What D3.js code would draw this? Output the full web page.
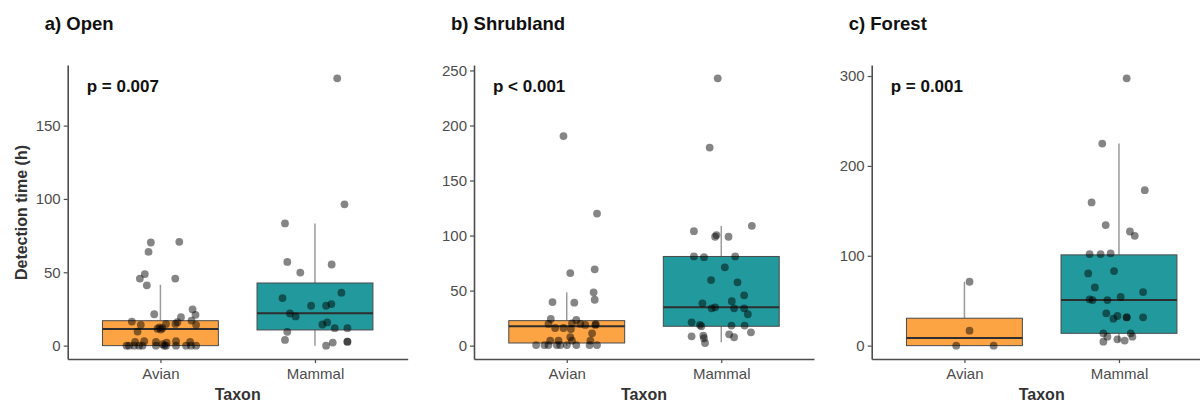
<!DOCTYPE html>
<html><head><meta charset="utf-8">
<script src="https://cdn.jsdelivr.net/npm/d3@7"></script>
<style>
html,body{margin:0;padding:0;background:#fff;}
svg{display:block;font-family:"Liberation Sans",Arial,Helvetica,sans-serif;}
</style></head>
<body><svg id="chart" width="1200" height="402"></svg>
<script>
// ---- data ----
const categories = ["Avian", "Mammal"];
const panelTitles = ["a) Open", "b) Shrubland", "c) Forest"];
const pLabels = ["p = 0.007", "p < 0.001", "p = 0.001"];
const yTicks = [[0, 50, 100, 150], [0, 50, 100, 150, 200, 250], [0, 100, 200, 300]];
const yLabel = "Detection time (h)";
const xLabel = "Taxon";

// box statistics per panel: [Avian, Mammal]
const boxQ1 = [[0, 10.7], [2.4, 17.6], [0, 13.7]];
const boxMedian = [[11.4, 22.1], [17.6, 34.8], [8.5, 50.7]];
const boxQ3 = [[17, 42.7], [22.7, 81], [30.5, 101]];
const whiskerLow = [[0, 0], [0, 3], [0, 4.4]];
const whiskerHigh = [[41.5, 83.3], [48.4, 108.8], [71, 224.8]];

// jittered observations: [jitter (category units), detection time (h)]
const avianOpen = [
  [-0.062, 70.3], [0.122, 70.8], [-0.077, 63.9], [-0.101, 48.8], [-0.133, 45.7], [0.096, 45.7],
  [-0.088, 41.1], [-0.040, 21.4], [0.208, 24.7], [0.227, 21], [0.133, 19.4], [0.201, 17.1],
  [0.110, 16], [-0.185, 16.4], [-0.127, 14.2], [0.231, 14.2], [-0.148, 9.6], [-0.006, 12.5],
  [0.003, 11], [0.013, 12], [0.036, 14.8], [0.097, 14.8], [-0.019, 11.5],
  [-0.219, 0], [-0.203, 0], [-0.170, 0], [-0.138, 0], [-0.116, 0], [-0.029, 0], [0.025, 0],
  [0.036, 0], [0.101, 0], [0.166, 0], [0.198, 0], [0.231, 0],
  [-0.164, 2.5], [-0.105, 3], [-0.029, 2.5], [0.040, 2], [0.101, 3], [0.192, 2.5], [0.014, 1]
];
const mammalOpen = [
  [0.144, 182.2], [0.191, 96.3], [-0.194, 83.3], [-0.179, 57.1], [0.108, 55.3], [-0.095, 49.8],
  [0.171, 36.1], [-0.210, 32.4], [-0.025, 27.2], [0.072, 27.2], [0.106, 28.3], [-0.162, 21.9],
  [-0.125, 19.9], [0.048, 14.4], [0.079, 15.8], [0.128, 11.9], [0.210, 11.9], [-0.179, 9.4],
  [-0.194, 3.9], [0.210, 2.7], [0.210, 2.7], [0.115, 2.1], [0.072, 0]
];
const avianShrub = [
  [-0.021, 190.4], [0.196, 120], [0.023, 65.9], [0.181, 69.3], [0.174, 48.4], [0.181, 41.7],
  [-0.092, 39.6], [0.049, 39], [-0.103, 24.2], [-0.118, 19.7], [0.062, 23.3], [0.034, 20.3],
  [-0.075, 16], [-0.021, 16], [0.088, 19.7], [0.120, 18.8], [0.185, 18.8], [0.188, 19.5],
  [0.027, 15.1], [0.023, 7.6], [0.164, 11.2],
  [-0.198, 0.5], [-0.144, 0.5], [-0.118, 0.5], [-0.064, 0.5], [-0.042, 0.5], [0.001, 0.5],
  [0.062, 0.5], [0.148, 0.5], [0.196, 0.5],
  [-0.107, 4.5], [-0.053, 4.5], [0.034, 4.5], [0.153, 4.5]
];
const mammalShrub = [
  [-0.023, 242.8], [-0.075, 179.9], [0.198, 108.8], [-0.177, 104], [-0.040, 98.9], [-0.031, 100.4],
  [0.047, 98.9], [-0.177, 81], [-0.112, 80.4], [0.090, 81], [0.023, 71.1], [-0.066, 59.6],
  [0.105, 57.5], [0.148, 45.7], [0.068, 40.3], [-0.122, 38.4], [-0.062, 33.9], [-0.040, 34.8],
  [0.083, 33.9], [0.148, 33.9], [0.172, 28.5], [-0.192, 21.2], [-0.138, 18.8], [-0.129, 17.6],
  [0.066, 18.2], [0.151, 18.2], [0.192, 12.1], [-0.192, 8.5], [-0.116, 9.1], [-0.112, 6.7],
  [-0.105, 2.4], [0.051, 10.3], [0.083, 7.6]
];
const avianForest = [[0.033, 71.1], [0.033, 16.7], [-0.053, 0], [0.189, 0]];
const mammalForest = [
  [0.050, 297.4], [-0.108, 224.8], [0.167, 173], [-0.177, 159.3], [-0.086, 134.1], [0.071, 127],
  [0.102, 122.2], [-0.190, 101.9], [-0.119, 101.9], [-0.054, 102.6], [-0.199, 80.4], [-0.032, 83],
  [-0.156, 64.8], [0.156, 59.6], [0.011, 54.1], [-0.190, 51.5], [-0.171, 50.7], [-0.075, 50.7],
  [-0.082, 35.9], [-0.036, 30], [-0.010, 33], [0.050, 31.5], [0.050, 31.5], [0.156, 31.5],
  [-0.101, 13.7], [-0.075, 10], [0.076, 13.7], [0.087, 10], [-0.101, 4.4], [-0.010, 7], [0.037, 5.6]
];
const panelPoints = [[avianOpen, mammalOpen], [avianShrub, mammalShrub], [avianForest, mammalForest]];
const fillColors = ["#FCA444", "#22999C"];

// ---- layout ----
const svg = d3.select("#chart");
const panelLeft = [67.7, 474, 871.7];
const panelWidth = 340;
const plotTop = 65, plotBottom = 359;
const axisColor = "#4d4d4d";

panelTitles.forEach((title, p) => {
  const L = panelLeft[p];
  const g = svg.append("g");
  const all = panelPoints[p].flat().map(d => d[1]);
  const ymax = d3.max(all), ymin = 0;
  const pad = (ymax - ymin) * 0.05;
  const y = d3.scaleLinear().domain([ymin - pad, ymax + pad]).range([plotBottom, plotTop]);
  const x = d3.scaleLinear().domain([0.4, 2.6]).range([L, L + panelWidth]);
  const bw = x(0.375) - x(0);

  categories.forEach((c, i) => {
    const cx = x(i + 1);
    g.append("line").attr("x1", cx).attr("x2", cx)
      .attr("y1", y(whiskerHigh[p][i])).attr("y2", y(boxQ3[p][i]))
      .attr("stroke", "#9a9a9a").attr("stroke-width", 1.5);
    g.append("line").attr("x1", cx).attr("x2", cx)
      .attr("y1", y(whiskerLow[p][i])).attr("y2", y(boxQ1[p][i]))
      .attr("stroke", "#9a9a9a").attr("stroke-width", 1.5);
    g.append("rect").attr("x", cx - bw).attr("width", 2 * bw)
      .attr("y", y(boxQ3[p][i])).attr("height", y(boxQ1[p][i]) - y(boxQ3[p][i]))
      .attr("fill", fillColors[i]).attr("stroke", "#4a4a4a").attr("stroke-width", 1);
    g.append("line").attr("x1", cx - bw).attr("x2", cx + bw)
      .attr("y1", y(boxMedian[p][i])).attr("y2", y(boxMedian[p][i]))
      .attr("stroke", "#2e2e2e").attr("stroke-width", 2);
  });

  categories.forEach((c, i) => {
    g.selectAll(null).data(panelPoints[p][i]).join("circle")
      .attr("cx", d => x(i + 1 + d[0]))
      .attr("cy", d => y(d[1]))
      .attr("r", 3.9)
      .attr("fill", "#000").attr("fill-opacity", 0.48);
  });

  const ya = g.append("g").attr("transform", `translate(${L},0)`)
    .call(d3.axisLeft(y).tickValues(yTicks[p]).tickSize(4).tickSizeOuter(0).tickPadding(3));
  const xa = g.append("g").attr("transform", `translate(0,${plotBottom})`)
    .call(d3.axisBottom(x).tickValues([1, 2]).tickFormat((d) => categories[d - 1]).tickSize(4).tickSizeOuter(0).tickPadding(5));
  [ya, xa].forEach(a => {
    a.select(".domain").attr("stroke", axisColor).attr("stroke-width", 1.6);
    a.selectAll(".tick line").attr("stroke", axisColor).attr("stroke-width", 1.2);
    a.selectAll(".tick text").attr("fill", "#4d4d4d").attr("font-size", 15)
      .attr("font-family", "Liberation Sans, Arial, sans-serif");
  });

  g.append("text").attr("x", L - 23).attr("y", 29.5).text(title)
    .attr("font-weight", "bold").attr("font-size", 18.5).attr("fill", "#111");
  g.append("text").attr("x", L + 19).attr("y", 91.5).text(pLabels[p])
    .attr("font-weight", "bold").attr("font-size", 17).attr("fill", "#111");
  g.append("text").attr("x", L + panelWidth / 2).attr("y", 400).attr("text-anchor", "middle")
    .text(xLabel).attr("font-weight", "bold").attr("font-size", 16).attr("fill", "#333");
  if (p === 0) {
    g.append("text").attr("transform", `translate(26.5,${(plotTop + plotBottom) / 2 + 0.5}) rotate(-90)`)
      .attr("text-anchor", "middle").text(yLabel)
      .attr("font-weight", "bold").attr("font-size", 16).attr("fill", "#333");
  }
});
</script></body></html>
